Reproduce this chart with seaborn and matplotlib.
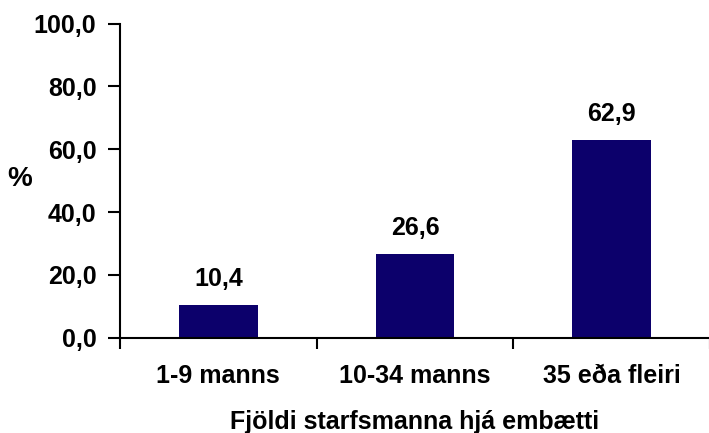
import seaborn as sns
import matplotlib.pyplot as plt
import pandas as pd

# data
categories = ["1-9 manns", "10-34 manns", "35 eða fleiri"]
values = [10.4, 26.6, 62.9]
y_ticks = [0, 20, 40, 60, 80, 100]
y_tick_labels = ["0,0", "20,0", "40,0", "60,0", "80,0", "100,0"]
x_title = "Fjöldi starfsmanna hjá embætti"
y_title = "%"

sns.set_theme(style="ticks")
plt.rcParams['font.family'] = ['Liberation Sans', 'DejaVu Sans']
plt.rcParams['font.weight'] = 'bold'
plt.rcParams['text.color'] = 'black'
plt.rcParams['xtick.color'] = 'black'
plt.rcParams['ytick.color'] = 'black'
plt.rcParams['axes.labelcolor'] = 'black'

fs = 18

df = pd.DataFrame({"group": categories, "pct": values})

fig = plt.figure(figsize=(7.09, 4.33), dpi=100)
ax = fig.add_axes([0.1693, 0.22, 0.8321, 0.7257])

sns.barplot(data=df, x="group", y="pct", order=categories, color="#0c006b",
            saturation=1, width=0.4, errorbar=None, linewidth=0, ax=ax)

# value labels above bars, comma as decimal sign
ax.bar_label(ax.containers[0], labels=[f"{v:.1f}".replace(".", ",") for v in values],
             padding=10, fontsize=fs, fontweight='bold', color='black')

ax.set_ylim(0, 100)
ax.set_xlim(-0.5, len(categories) - 0.5)
ax.set_yticks(y_ticks)
ax.set_yticklabels(y_tick_labels, fontsize=fs, fontweight='bold')

# major ticks between categories, labels on minor ticks at bar centres
ax.set_xticks([i - 0.5 for i in range(len(categories) + 1)])
ax.set_xticklabels([])
ax.set_xticks(range(len(categories)), minor=True)
ax.set_xticklabels(categories, minor=True, fontsize=fs, fontweight='bold')
ax.tick_params(axis='x', which='minor', length=0, pad=19)
ax.tick_params(axis='x', which='major', length=8, width=1.5, direction='out')
ax.tick_params(axis='y', length=9, width=1.5, direction='out', pad=8)

ax.set_xlabel(x_title, fontsize=fs, fontweight='bold', labelpad=16)
ax.set_ylabel(y_title, fontsize=20, fontweight='bold', rotation=0, ha='center', va='center')
ax.yaxis.set_label_coords(-0.1695, 0.505)

sns.despine(ax=ax)
for s in ["left", "bottom"]:
    ax.spines[s].set_linewidth(1.5)
    ax.spines[s].set_color("black")

plt.savefig("out.png", dpi=100)
